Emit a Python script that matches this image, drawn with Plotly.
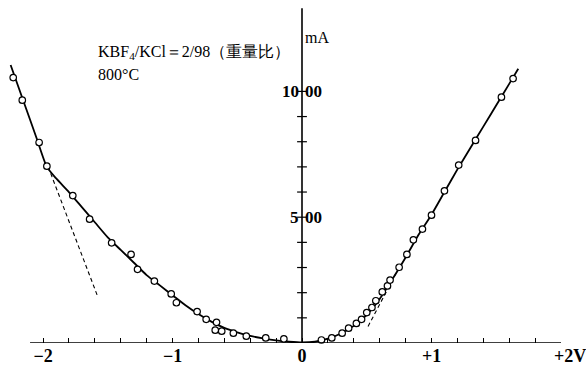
import plotly.graph_objects as go

# measured points (V, mA)
left_v = [-2.23, -2.16, -2.03, -1.97, -1.77, -1.64, -1.47, -1.32, -1.27, -1.14, -1.01, -0.97,
          -0.81, -0.74, -0.66, -0.67, -0.62, -0.53, -0.43, -0.28, -0.14]
left_i = [10.55, 9.65, 7.97, 7.03, 5.86, 4.92, 3.98, 3.52, 2.93, 2.46, 1.95, 1.60,
          1.25, 0.94, 0.82, 0.51, 0.47, 0.39, 0.27, 0.20, 0.16]
right_v = [0.15, 0.23, 0.31, 0.36, 0.42, 0.46, 0.50, 0.54, 0.57, 0.62, 0.66, 0.68,
           0.75, 0.81, 0.86, 0.93, 1.00, 1.10, 1.21, 1.34, 1.54, 1.63]
right_i = [0.12, 0.20, 0.39, 0.59, 0.78, 0.94, 1.21, 1.41, 1.68, 2.03, 2.27, 2.50,
           3.01, 3.52, 4.10, 4.53, 5.08, 6.05, 7.07, 8.05, 9.77, 10.51]

# smooth fitted curve
curve_v = [-2.25, -2.15, -2.05, -1.97, -1.9, -1.8, -1.7, -1.6, -1.5, -1.4, -1.3, -1.2, -1.1,
           -1.0, -0.9, -0.8, -0.7, -0.6, -0.5, -0.4, -0.3, -0.2, -0.1, 0.0,
           0.1, 0.2, 0.3, 0.4, 0.5, 0.6, 0.7, 0.8, 0.9, 1.0, 1.1, 1.2, 1.3, 1.4, 1.5, 1.6, 1.67]
curve_i = [11.05, 9.6, 8.15, 7.0, 6.55, 6.0, 5.4, 4.8, 4.2, 3.7, 3.2, 2.7, 2.3,
           1.9, 1.5, 1.15, 0.85, 0.6, 0.42, 0.28, 0.18, 0.1, 0.05, 0.02,
           0.05, 0.17, 0.38, 0.68, 1.12, 1.75, 2.55, 3.4, 4.3, 5.1, 6.0, 6.9, 7.75, 8.6, 9.45, 10.3, 10.9]

# dashed tangent lines
tan_left_v = [-1.96, -1.58]
tan_left_i = [7.0, 1.88]
tan_right_v = [0.51, 0.75]
tan_right_i = [0.66, 3.0]

# axes
x_axis_extent = [-2.1, 2.0]
y_axis_extent = [0.0, 13.3]
x_tick_vals = [round(-2.0 + 0.2 * k, 1) for k in range(20)]
x_major = {-2.0: "−2", -1.0: "−1", 0.0: "0", 1.0: "+1"}
x_tick_text = [x_major.get(v, "") for v in x_tick_vals]
y_tick_vals = [1, 2, 3, 4, 5, 6, 7, 8, 9, 10]
y_label_vals = [5, 10]
y_label_left = ["5", "10"]
y_label_right = ["00", "00"]

W, H = 586, 366
X0PX, PXV = 302, 129.5
Y0PX, PXMA = 349, 25.6
serif = "Liberation Serif"

fig = go.Figure()

fig.add_trace(go.Scatter(x=curve_v, y=curve_i, mode="lines", line=dict(color="black", width=1.8, shape="spline", smoothing=0.6),
                         hoverinfo="skip", cliponaxis=False))
fig.add_trace(go.Scatter(x=tan_left_v, y=tan_left_i, mode="lines", line=dict(color="black", width=1.1, dash="4px,3px"),
                         hoverinfo="skip"))
fig.add_trace(go.Scatter(x=tan_right_v, y=tan_right_i, mode="lines", line=dict(color="black", width=1.1, dash="4px,3px"),
                         hoverinfo="skip"))
fig.add_trace(go.Scatter(x=left_v + right_v, y=left_i + right_i, mode="markers", cliponaxis=False,
                         marker=dict(symbol="circle", size=6.5, color="white", line=dict(color="black", width=1.2))))

# y-axis tick marks crossing the axis
fig.add_trace(go.Scatter(x=[0] * len(y_tick_vals), y=y_tick_vals, mode="markers", cliponaxis=False,
                         marker=dict(symbol="line-ew", size=7, line=dict(color="black", width=1.2))))

shapes = [
    dict(type="line", xref="x", yref="y", x0=x_axis_extent[0], x1=x_axis_extent[1], y0=0, y1=0,
         line=dict(color="black", width=1.3)),
    dict(type="line", xref="x", yref="y", x0=0, x1=0, y0=y_axis_extent[0], y1=y_axis_extent[1],
         line=dict(color="black", width=1.6)),
]

annotations = [
    dict(x=-1.59, y=11.56, xref="x", yref="y", xanchor="left", yanchor="middle", showarrow=False,
         text="KBF<sub>4</sub>/KCl＝2/98（重量比）", font=dict(family=serif, size=16, color="black")),
    dict(x=-1.59, y=10.66, xref="x", yref="y", xanchor="left", yanchor="middle", showarrow=False,
         text="800°C", font=dict(family=serif, size=16, color="black")),
    dict(x=0.0, y=12.15, xref="x", yref="y", xanchor="left", yanchor="middle", showarrow=False, xshift=1,
         text="mA", font=dict(family=serif, size=16, color="black")),
    dict(x=2.0, y=0, xref="x", yref="y", xanchor="left", yanchor="top", showarrow=False, xshift=-9, yshift=-1,
         text="+2V", font=dict(family=serif, size=18, color="black", weight="bold")),
]
for v, lt, rt in zip(y_label_vals, y_label_left, y_label_right):
    annotations.append(dict(x=0, y=v, xref="x", yref="y", xanchor="right", yanchor="middle", showarrow=False,
                            xshift=-1, text=lt, font=dict(family=serif, size=17, color="black", weight="bold")))
    annotations.append(dict(x=0, y=v, xref="x", yref="y", xanchor="left", yanchor="middle", showarrow=False,
                            xshift=1, text=rt, font=dict(family=serif, size=17, color="black", weight="bold")))

fig.update_layout(
    width=W, height=H,
    margin=dict(l=0, r=0, t=0, b=H - Y0PX, pad=0),
    paper_bgcolor="white", plot_bgcolor="white",
    showlegend=False,
    xaxis=dict(range=[-X0PX / PXV, (W - X0PX) / PXV], showgrid=False, zeroline=False, showline=False,
               tickmode="array", tickvals=x_tick_vals, ticktext=x_tick_text,
               ticks="inside", ticklen=5, tickwidth=1, tickcolor="black",
               tickfont=dict(family=serif, size=18, color="black", weight="bold")),
    yaxis=dict(range=[0, Y0PX / PXMA], showgrid=False, zeroline=False, showline=False,
               showticklabels=False, ticks=""),
    shapes=shapes,
    annotations=annotations,
)

fig.write_html("out.html")
